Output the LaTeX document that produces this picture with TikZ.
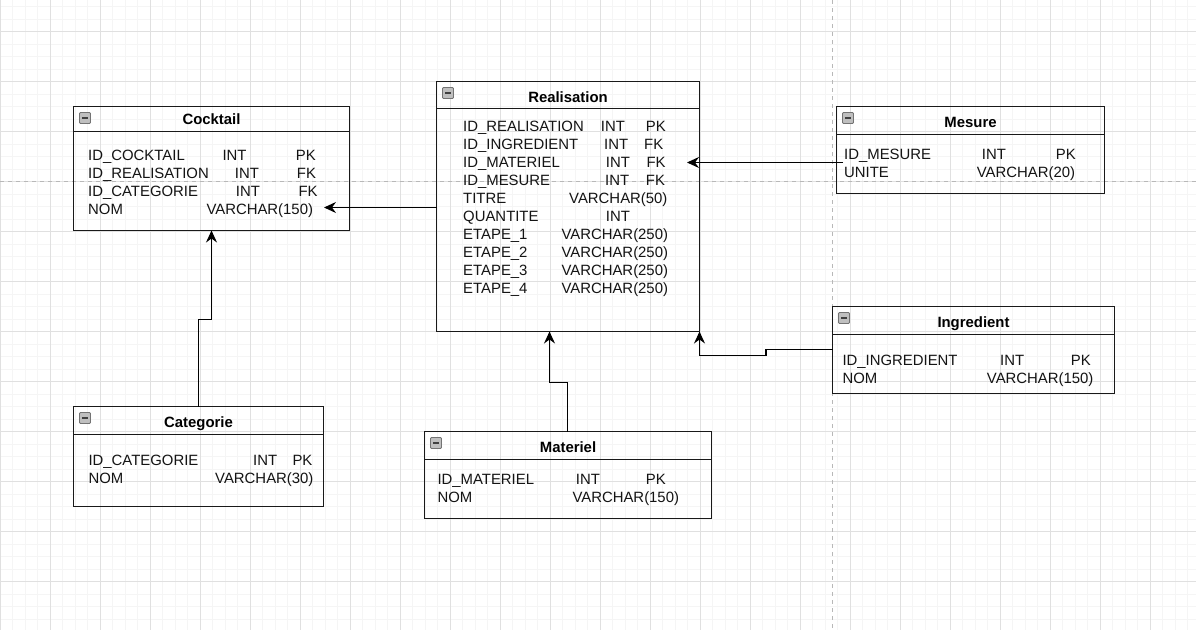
\documentclass[tikz,border=0pt]{standalone}
\usepackage{fontspec}
\setmainfont{Liberation Sans}
\usetikzlibrary{arrows.meta}

% #1 name, #2 x1, #3 y1, #4 x2, #5 y2, #6 header bottom, #7 title, #8 title baseline
\newcommand{\tablebox}[8]{%
  \node[tbl, minimum width={#4-#2}, minimum height={#5-#3}] (#1) at ({(#2+#4)/2},{(#3+#5)/2}) {};
  \draw[tblline] (#1.west |- 0,#6) -- (#1.east |- 0,#6);
  \node[ttl] (#1-title) at ({(#2+#4)/2},#8) {#7};
  \draw[icon] ({#2+6},{#3+6}) rectangle ++(11,11);
  \draw[iconbar] ({#2+8.5},{#3+11.5}) -- ++(6,0);
}

\begin{document}
\begin{tikzpicture}[x=1pt,y=-1pt,
  minorgrid/.style={draw=black!4, line width=0.8pt},
  majorgrid/.style={draw=black!12, line width=0.8pt},
  pagebreak/.style={draw=black!28, line width=1pt, dash pattern=on 4pt off 4pt},
  tbl/.style={draw=black!90, line width=1.3pt, inner sep=0pt, outer sep=0pt, rectangle},
  tblline/.style={draw=black!90, line width=1.3pt},
  ttl/.style={anchor=base, inner sep=0pt, font=\fontsize{14.9}{17}\selectfont\bfseries},
  fld/.style={anchor=base west, inner sep=0pt, text=black!92, font=\fontsize{14.9}{17}\selectfont},
  icon/.style={draw=black!55, fill=black!25, line width=0.8pt, rounded corners=1pt},
  iconbar/.style={draw=black!75, line width=1.4pt},
  link/.style={draw=black, line width=1.3pt, -{Stealth[length=12pt,width=11pt,inset=4pt]}}
]
\useasboundingbox (0,0) rectangle (1196,630);
\fill[white] (0,0) rectangle (1196,630);

% background grid
\foreach \i in {0,...,96} \draw[minorgrid] ({12.5*\i},0) -- ({12.5*\i},630);
\foreach \j in {0,...,50} \draw[minorgrid] (0,{6.7+12.5*\j}) -- (1196,{6.7+12.5*\j});
\foreach \i in {0,...,24} \draw[majorgrid] ({50*\i},0) -- ({50*\i},630);
\foreach \j in {0,...,12} \draw[majorgrid] (0,{31.7+50*\j}) -- (1196,{31.7+50*\j});

% page breaks
\draw[pagebreak] (0,181.7) -- (1196,181.7);
\draw[pagebreak] (832.7,0) -- (832.7,630);

% tables
\tablebox{cocktail}{73.5}{106.5}{349.5}{230.5}{131.5}{Cocktail}{124}
\tablebox{realisation}{436.5}{81.5}{699.5}{331.5}{108.5}{Realisation}{102.3}
\tablebox{mesure}{836.5}{106.5}{1104.5}{193.5}{134.5}{Mesure}{127.3}
\tablebox{ingredient}{832.5}{306.5}{1114.5}{393.5}{334.5}{Ingredient}{327.3}
\tablebox{categorie}{73.5}{406.5}{323.5}{506.5}{434.5}{Categorie}{427.3}
\tablebox{materiel}{424.5}{431.5}{711.5}{518.5}{459.5}{Materiel}{452.3}

% Cocktail fields
\node[fld] (c1a) at (88,160) {ID\_COCKTAIL};
\node[fld] (c1b) at (222.3,160) {INT};
\node[fld] (c1c) at (295.7,160) {PK};
\node[fld] (c2a) at (88,178) {ID\_REALISATION};
\node[fld] (c2b) at (234.7,178) {INT};
\node[fld] (c2c) at (296.7,178) {FK};
\node[fld] (c3a) at (88,196) {ID\_CATEGORIE};
\node[fld] (c3b) at (235.7,196) {INT};
\node[fld] (c3c) at (298.3,196) {FK};
\node[fld] (c4a) at (88,214) {NOM};
\node[fld] (c4b) at (206.3,214) {VARCHAR(150)};

% Realisation fields
\node[fld] (r1a) at (463,131) {ID\_REALISATION};
\node[fld] (r1b) at (600.7,131) {INT};
\node[fld] (r1c) at (645.7,131) {PK};
\node[fld] (r2a) at (463,149) {ID\_INGREDIENT};
\node[fld] (r2b) at (604,149) {INT};
\node[fld] (r2c) at (644,149) {FK};
\node[fld] (r3a) at (463,167) {ID\_MATERIEL};
\node[fld] (r3b) at (605.7,167) {INT};
\node[fld] (r3c) at (646.3,167) {FK};
\node[fld] (r4a) at (463,185) {ID\_MESURE};
\node[fld] (r4b) at (605,185) {INT};
\node[fld] (r4c) at (645.7,185) {FK};
\node[fld] (r5a) at (463,203) {TITRE};
\node[fld] (r5b) at (569,203) {VARCHAR(50)};
\node[fld] (r6a) at (463,221) {QUANTITE};
\node[fld] (r6b) at (605.7,221) {INT};
\node[fld] (r7a) at (463,239) {ETAPE\_1};
\node[fld] (r7b) at (561.3,239) {VARCHAR(250)};
\node[fld] (r8a) at (463,257) {ETAPE\_2};
\node[fld] (r8b) at (561.3,257) {VARCHAR(250)};
\node[fld] (r9a) at (463,275) {ETAPE\_3};
\node[fld] (r9b) at (561.3,275) {VARCHAR(250)};
\node[fld] (r10a) at (463,293) {ETAPE\_4};
\node[fld] (r10b) at (561.3,293) {VARCHAR(250)};

% Mesure fields
\node[fld] (m1a) at (844,159) {ID\_MESURE};
\node[fld] (m1b) at (981.7,159) {INT};
\node[fld] (m1c) at (1055.7,159) {PK};
\node[fld] (m2a) at (844,177.3) {UNITE};
\node[fld] (m2b) at (976.7,177.3) {VARCHAR(20)};

% Ingredient fields
\node[fld] (i1a) at (842.3,365.7) {ID\_INGREDIENT};
\node[fld] (i1b) at (1000,365.7) {INT};
\node[fld] (i1c) at (1070.7,365.7) {PK};
\node[fld] (i2a) at (842.3,383.3) {NOM};
\node[fld] (i2b) at (986.7,383.3) {VARCHAR(150)};

% Categorie fields
\node[fld] (g1a) at (88.3,465.7) {ID\_CATEGORIE};
\node[fld] (g1b) at (253,465.7) {INT};
\node[fld] (g1c) at (292.3,465.7) {PK};
\node[fld] (g2a) at (88.3,483.3) {NOM};
\node[fld] (g2b) at (215,483.3) {VARCHAR(30)};

% Materiel fields
\node[fld] (t1a) at (437.3,484) {ID\_MATERIEL};
\node[fld] (t1b) at (575.7,484) {INT};
\node[fld] (t1c) at (645.7,484) {PK};
\node[fld] (t2a) at (437.3,502.3) {NOM};
\node[fld] (t2b) at (572.3,502.3) {VARCHAR(150)};

% relations
\coordinate (cocktail-in) at (324,207.5);
\coordinate (realisation-in) at (687,162.5);
\coordinate (materiel-in) at (549.5,331.5);

\draw[link] (realisation.west |- cocktail-in) -- (cocktail-in);
\draw[link] ([xshift=6.5pt]mesure.west |- realisation-in) -- (realisation-in);
\draw[link] (categorie.north) -- (categorie.north |- 0,319.5) -| (cocktail.south);
\draw[link] ([xshift=-0.5pt]materiel.north) -- ([xshift=-0.5pt]materiel.north |- 0,382.5) -| (materiel-in);
\draw[link] ([yshift=0.5pt]ingredient.west) -- ++(-66.5,0) -- ++(0,6) -| (realisation.south east);
\end{tikzpicture}
\end{document}
